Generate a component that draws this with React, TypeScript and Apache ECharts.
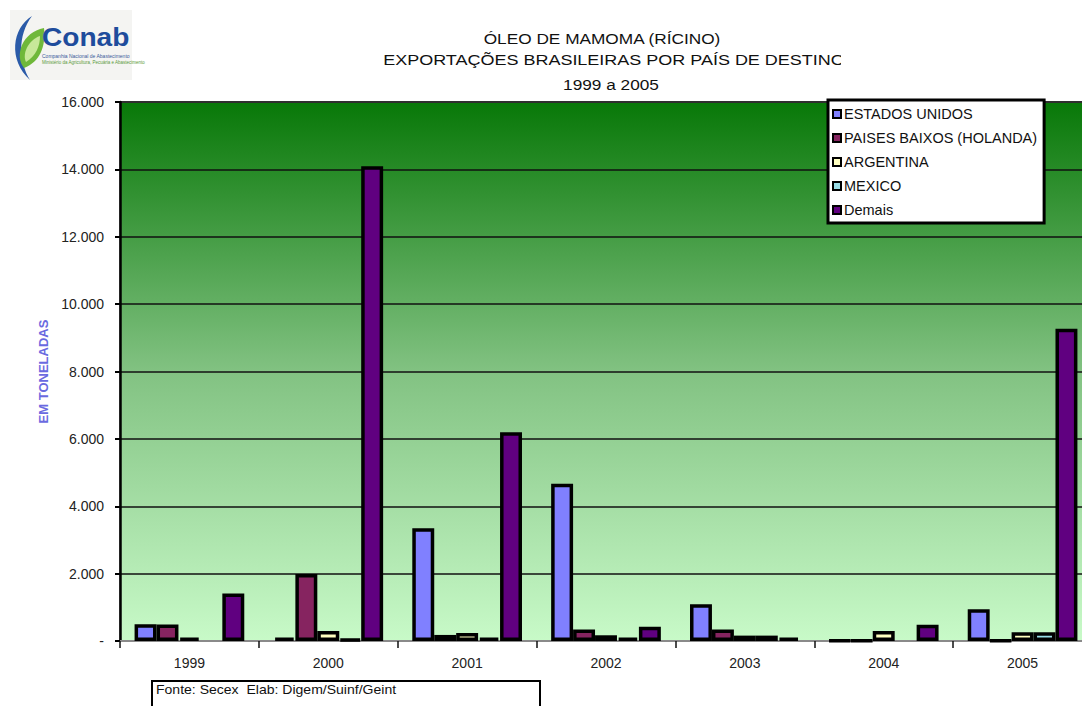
import React, { useEffect, useRef } from "react";
import * as echarts from "echarts";

const years = ["1999", "2000", "2001", "2002", "2003", "2004", "2005"];
const seriesNames = ["ESTADOS UNIDOS", "PAISES BAIXOS (HOLANDA)", "ARGENTINA", "MEXICO", "Demais"];
const estadosUnidos = [500, 100, 3350, 4670, 1090, 10, 940];
const paisesBaixos = [490, 1990, 180, 340, 340, 10, 10];
const argentina = [100, 300, 240, 170, 160, 300, 260];
const mexico = [0, 60, 100, 100, 160, 0, 260];
const demais = [1410, 14090, 6200, 420, 100, 480, 9270];
const yTicks = [0, 2000, 4000, 6000, 8000, 10000, 12000, 14000, 16000];

const seriesColors = ["#8080FF", "#862460", "#FFFFC0", "#99DDE6", "#600080"];

const titleLines = ["ÓLEO DE MAMOMA (RÍCINO)", "EXPORTAÇÕES BRASILEIRAS POR PAÍS DE DESTINO", "1999 a 2005"];
const footnote = "Fonte: Secex  Elab: Digem/Suinf/Geint";

echarts.graphic.registerShape(
  "conabSwoosh",
  echarts.graphic.extendPath("M 32 16 C 12 28, 8 60, 30 80 C 19 62, 17 36, 32 16 Z", {})
);
echarts.graphic.registerShape(
  "conabLeaf",
  echarts.graphic.extendPath("M 44 28 C 22 32, 14 56, 24 68 C 40 62, 46 46, 44 28 Z", {})
);
echarts.graphic.registerShape(
  "conabLeafInner",
  echarts.graphic.extendPath("M 40 36 C 28 40, 22 54, 26 62 C 36 56, 40 46, 40 36 Z", {})
);

function fmt(v: number): string {
  if (v === 0) return "-";
  return String(v).replace(/\B(?=(\d{3})+(?!\d))/g, ".");
}

export default function App() {
  const ref = useRef<HTMLDivElement>(null);
  useEffect(() => {
    if (!ref.current) return;
    const chart = echarts.init(ref.current, null, { renderer: "svg" });
    const data = [estadosUnidos, paisesBaixos, argentina, mexico, demais];
    const font = "'Liberation Sans', Arial, sans-serif";
    chart.setOption({
      animation: false,
      backgroundColor: "#ffffff",
      textStyle: { fontFamily: font },
      grid: {
        left: 120,
        width: 972,
        top: 102,
        bottom: 65,
        outerBoundsMode: "none",
        containLabel: false,
        show: true,
        borderColor: "#8a8a8a",
        borderWidth: 2,
        backgroundColor: new echarts.graphic.LinearGradient(0, 0, 0, 1, [
          { offset: 0, color: "#087808" },
          { offset: 0.5, color: "#82c282" },
          { offset: 1, color: "#c8fac8" },
        ]),
      },
      legend: {
        orient: "vertical",
        left: 828,
        top: 100,
        data: seriesNames,
        backgroundColor: "#ffffff",
        borderColor: "#000000",
        borderWidth: 3,
        borderRadius: 0,
        padding: [6, 7, 5, 4],
        itemWidth: 8,
        itemHeight: 8,
        itemGap: 8,
        icon: "rect",
        textStyle: { fontSize: 14.5, color: "#111", lineHeight: 16, fontFamily: font, padding: [0, 0, 0, -2] },
      },
      xAxis: {
        type: "category",
        data: years,
        axisLine: { lineStyle: { color: "#8a8a8a", width: 2 } },
        axisTick: { show: true, length: 7, lineStyle: { color: "#111", width: 1.5 } },
        axisLabel: { fontSize: 14, color: "#222", margin: 15, fontFamily: font },
        splitLine: { show: false },
      },
      yAxis: {
        type: "value",
        min: yTicks[0],
        max: yTicks[yTicks.length - 1],
        interval: 2000,
        name: "EM TONELADAS",
        nameLocation: "middle",
        nameGap: 69,
        nameRotate: 90,
        nameTextStyle: { color: "#6a6ae0", fontWeight: "bold", fontSize: 13, fontFamily: font },
        axisLine: { show: true, lineStyle: { color: "#000", width: 2.5 } },
        axisTick: { show: true, length: 5, lineStyle: { color: "#000", width: 2 } },
        axisLabel: { fontSize: 14, color: "#222", margin: 16, formatter: (v: number) => fmt(v), fontFamily: font },
        splitLine: { show: true, lineStyle: { color: "#111", width: 1.6 } },
      },
      series: seriesNames.map((name, i) => ({
        name,
        type: "bar",
        data: data[i].map((v) => (v === 0 ? null : v)),
        barGap: "0%",
        barCategoryGap: "21%",
        itemStyle: { color: seriesColors[i], borderColor: "#000", borderWidth: 3.5 },
      })),
      graphic: [
        { type: "rect", left: 10, top: 10, shape: { width: 122, height: 70 }, style: { fill: "#f4f4f2" }, z: 1 },
        { type: "conabSwoosh", x: 0, y: 0, style: { fill: "#2a5aa8" }, z: 2 },
        { type: "conabLeaf", x: 0, y: 0, style: { fill: "#6fb83a" }, z: 2 },
        { type: "conabLeafInner", x: 0, y: 0, style: { fill: "#c8e89a" }, z: 2 },
        {
          type: "text", x: 42, y: 24, scaleX: 1.08, z: 3,
          style: { text: "Conab", fill: "#1e4c9c", font: "bold 26px 'Liberation Sans', Arial, sans-serif", textVerticalAlign: "top" },
        },
        {
          type: "text", x: 42, y: 53, z: 3,
          style: { text: "Companhia Nacional de Abastecimento", fill: "#3a5a9a", font: "5px 'Liberation Sans', Arial" },
        },
        {
          type: "text", x: 42, y: 60, z: 3,
          style: { text: "Ministério da Agricultura, Pecuária e Abastecimento", fill: "#5a9a3a", font: "4.5px 'Liberation Sans', Arial" },
        },
        ...titleLines.map((t, i) => ({
          type: "text", x: [602, 614, 611][i], y: [38, 60, 84][i], scaleX: [1.15, 1.2, 1.15][i], z: 3,
          style: { text: t, fill: "#111", font: "15px 'Liberation Sans', Arial, sans-serif", textAlign: "center", textVerticalAlign: "middle" },
        })),
        { type: "rect", x: 841, y: 48, shape: { width: 200, height: 24 }, style: { fill: "#ffffff" }, z: 4 },
        {
          type: "rect", x: 152, y: 681, shape: { width: 388, height: 40 },
          style: { fill: "#ffffff", stroke: "#000", lineWidth: 2 }, z: 3,
        },
        {
          type: "text", x: 156, y: 690, scaleX: 1.08, z: 4,
          style: { text: footnote, fill: "#111", font: "13px 'Liberation Sans', Arial, sans-serif", textVerticalAlign: "middle" },
        },
      ],
    });
    return () => chart.dispose();
  }, []);
  return <div ref={ref} style={{ position: "absolute", left: 0, top: 0, width: 1082, height: 706 }} />;
}
